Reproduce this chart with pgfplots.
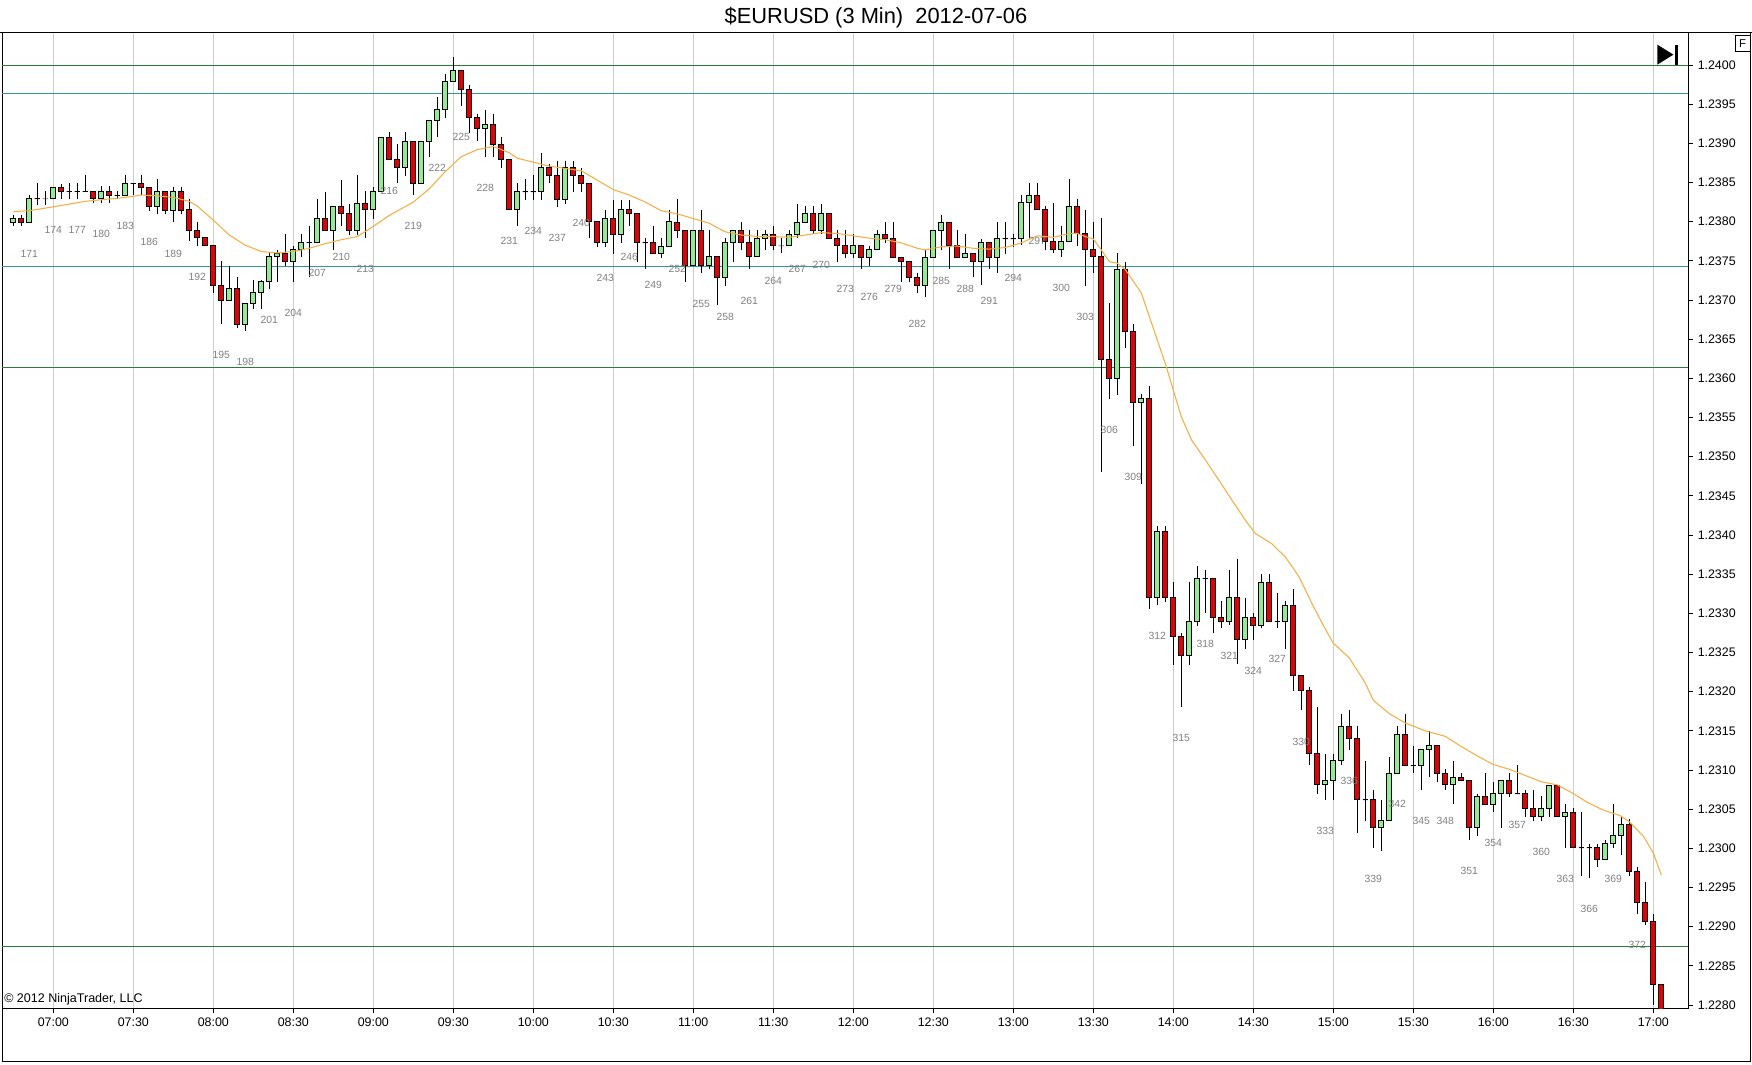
\documentclass[border=0pt]{standalone}
\usepackage{pgfplots}
\pgfplotsset{compat=1.18}
\usepackage{pgfplotstable}
\usepackage{fontspec}
\setmainfont{Liberation Sans}
\definecolor{cgreen}{RGB}{144,238,144}
\definecolor{cred}{RGB}{232,0,0}
\definecolor{lvlgreen}{RGB}{40,125,55}
\definecolor{lvlteal}{RGB}{50,150,160}
\definecolor{maorange}{RGB}{245,175,70}
\definecolor{gridgray}{RGB}{206,206,206}
\definecolor{labelgray}{RGB}{128,128,128}
\pgfdeclareplotmark{blank}{}

\pgfplotstableread{
x o h l c
169 1.23799 1.23809 1.23794 1.23804
170 1.23804 1.23809 1.23794 1.23799
171 1.23799 1.23834 1.23799 1.23829
172 1.23829 1.23849 1.23821 1.23829
173 1.23829 1.23839 1.23821 1.23829
174 1.23829 1.23844 1.23829 1.23844
175 1.23844 1.23848 1.23829 1.23839
176 1.23839 1.23849 1.23829 1.23839
177 1.23839 1.23849 1.23829 1.23839
178 1.23839 1.23860 1.23839 1.23839
179 1.23839 1.23839 1.23824 1.23829
180 1.23829 1.23845 1.23824 1.23839
181 1.23839 1.23845 1.23824 1.23834
182 1.23834 1.23839 1.23829 1.23834
183 1.23834 1.23860 1.23834 1.23849
184 1.23849 1.23849 1.23834 1.23849
185 1.23849 1.23860 1.23834 1.23844
186 1.23844 1.23844 1.23814 1.23819
187 1.23819 1.23854 1.23810 1.23839
188 1.23839 1.23839 1.23810 1.23814
189 1.23814 1.23844 1.23799 1.23839
190 1.23839 1.23844 1.23810 1.23814
191 1.23815 1.23829 1.23775 1.23789
192 1.23789 1.23799 1.23769 1.23780
193 1.23780 1.23780 1.23769 1.23769
194 1.23769 1.23769 1.23709 1.23719
195 1.23719 1.23750 1.23669 1.23700
196 1.23700 1.23744 1.23700 1.23715
197 1.23715 1.23729 1.23664 1.23669
198 1.23669 1.23695 1.23660 1.23695
199 1.23695 1.23725 1.23689 1.23709
200 1.23709 1.23725 1.23689 1.23724
201 1.23724 1.23760 1.23714 1.23755
202 1.23755 1.23764 1.23723 1.23760
203 1.23760 1.23784 1.23743 1.23749
204 1.23749 1.23769 1.23723 1.23765
205 1.23765 1.23784 1.23755 1.23774
206 1.23774 1.23795 1.23730 1.23774
207 1.23774 1.23829 1.23774 1.23804
208 1.23804 1.23838 1.23789 1.23789
209 1.23789 1.23820 1.23764 1.23820
210 1.23820 1.23853 1.23794 1.23810
211 1.23810 1.23823 1.23783 1.23789
212 1.23789 1.23859 1.23783 1.23823
213 1.23823 1.23839 1.23779 1.23815
214 1.23815 1.23844 1.23804 1.23838
215 1.23838 1.23908 1.23838 1.23908
216 1.23908 1.23915 1.23879 1.23879
217 1.23879 1.23899 1.23849 1.23869
218 1.23869 1.23915 1.23858 1.23903
219 1.23903 1.23903 1.23834 1.23849
220 1.23849 1.23903 1.23849 1.23903
221 1.23903 1.23929 1.23883 1.23929
222 1.23929 1.23959 1.23908 1.23943
223 1.23943 1.23988 1.23932 1.23979
224 1.23979 1.24010 1.23979 1.23993
225 1.23993 1.23993 1.23948 1.23969
226 1.23969 1.23974 1.23913 1.23933
227 1.23933 1.23938 1.23903 1.23919
228 1.23919 1.23943 1.23883 1.23924
229 1.23924 1.23938 1.23883 1.23899
230 1.23899 1.23908 1.23869 1.23879
231 1.23879 1.23879 1.23815 1.23815
232 1.23815 1.23849 1.23794 1.23838
233 1.23838 1.23854 1.23828 1.23838
234 1.23838 1.23859 1.23828 1.23838
235 1.23838 1.23888 1.23828 1.23869
236 1.23869 1.23874 1.23849 1.23859
237 1.23859 1.23878 1.23819 1.23828
238 1.23828 1.23878 1.23823 1.23869
239 1.23869 1.23878 1.23838 1.23859
240 1.23859 1.23869 1.23838 1.23849
241 1.23849 1.23849 1.23779 1.23800
242 1.23800 1.23800 1.23768 1.23773
243 1.23773 1.23815 1.23768 1.23804
244 1.23804 1.23828 1.23759 1.23784
245 1.23784 1.23828 1.23773 1.23815
246 1.23815 1.23828 1.23794 1.23810
247 1.23810 1.23810 1.23749 1.23773
248 1.23773 1.23779 1.23739 1.23773
249 1.23773 1.23794 1.23759 1.23759
250 1.23759 1.23779 1.23754 1.23768
251 1.23768 1.23815 1.23768 1.23800
252 1.23799 1.23829 1.23779 1.23789
253 1.23789 1.23789 1.23723 1.23744
254 1.23744 1.23789 1.23744 1.23789
255 1.23789 1.23815 1.23734 1.23744
256 1.23744 1.23789 1.23739 1.23755
257 1.23755 1.23755 1.23694 1.23729
258 1.23729 1.23779 1.23718 1.23774
259 1.23774 1.23789 1.23749 1.23789
260 1.23789 1.23799 1.23764 1.23774
261 1.23774 1.23789 1.23739 1.23755
262 1.23755 1.23789 1.23755 1.23779
263 1.23779 1.23789 1.23764 1.23784
264 1.23784 1.23795 1.23764 1.23769
265 1.23769 1.23779 1.23760 1.23769
266 1.23769 1.23789 1.23769 1.23784
267 1.23784 1.23823 1.23779 1.23799
268 1.23799 1.23820 1.23799 1.23810
269 1.23810 1.23820 1.23784 1.23789
270 1.23789 1.23823 1.23784 1.23810
271 1.23810 1.23810 1.23779 1.23779
272 1.23779 1.23789 1.23749 1.23769
273 1.23769 1.23789 1.23754 1.23759
274 1.23759 1.23784 1.23754 1.23769
275 1.23769 1.23769 1.23739 1.23754
276 1.23754 1.23769 1.23744 1.23764
277 1.23764 1.23789 1.23764 1.23784
278 1.23784 1.23799 1.23773 1.23778
279 1.23778 1.23799 1.23754 1.23754
280 1.23754 1.23754 1.23723 1.23749
281 1.23749 1.23749 1.23723 1.23729
282 1.23729 1.23734 1.23709 1.23719
283 1.23719 1.23764 1.23704 1.23754
284 1.23754 1.23789 1.23754 1.23789
285 1.23789 1.23809 1.23764 1.23799
286 1.23799 1.23799 1.23739 1.23769
287 1.23769 1.23789 1.23754 1.23754
288 1.23754 1.23784 1.23754 1.23759
289 1.23759 1.23759 1.23729 1.23749
290 1.23749 1.23778 1.23719 1.23773
291 1.23773 1.23773 1.23739 1.23754
292 1.23754 1.23799 1.23734 1.23778
293 1.23778 1.23799 1.23759 1.23778
294 1.23778 1.23784 1.23768 1.23778
295 1.23779 1.23834 1.23770 1.23824
296 1.23824 1.23849 1.23779 1.23834
297 1.23834 1.23849 1.23815 1.23815
298 1.23815 1.23820 1.23764 1.23775
299 1.23775 1.23824 1.23760 1.23765
300 1.23765 1.23795 1.23755 1.23775
301 1.23775 1.23854 1.23775 1.23820
302 1.23820 1.23829 1.23769 1.23785
303 1.23785 1.23815 1.23718 1.23765
304 1.23765 1.23800 1.23734 1.23755
305 1.23755 1.23805 1.23480 1.23624
306 1.23624 1.23696 1.23574 1.23600
307 1.23600 1.23760 1.23579 1.23739
308 1.23739 1.23749 1.23639 1.23660
309 1.23660 1.23669 1.23514 1.23569
310 1.23569 1.23580 1.23465 1.23574
311 1.23574 1.23590 1.23305 1.23320
312 1.23320 1.23411 1.23311 1.23405
313 1.23405 1.23411 1.23315 1.23320
314 1.23320 1.23340 1.23234 1.23271
315 1.23271 1.23275 1.23180 1.23246
316 1.23246 1.23340 1.23234 1.23289
317 1.23289 1.23360 1.23284 1.23345
318 1.23345 1.23355 1.23300 1.23345
319 1.23345 1.23345 1.23275 1.23295
320 1.23295 1.23316 1.23281 1.23290
321 1.23290 1.23355 1.23285 1.23320
322 1.23320 1.23370 1.23235 1.23266
323 1.23266 1.23320 1.23255 1.23295
324 1.23295 1.23300 1.23266 1.23285
325 1.23285 1.23350 1.23281 1.23339
326 1.23339 1.23350 1.23290 1.23290
327 1.23290 1.23326 1.23281 1.23290
328 1.23290 1.23316 1.23255 1.23310
329 1.23310 1.23331 1.23201 1.23221
330 1.23221 1.23221 1.23176 1.23201
331 1.23201 1.23206 1.23106 1.23121
332 1.23121 1.23181 1.23070 1.23081
333 1.23081 1.23121 1.23062 1.23086
334 1.23086 1.23121 1.23062 1.23112
335 1.23112 1.23172 1.23106 1.23156
336 1.23156 1.23177 1.23126 1.23140
337 1.23140 1.23156 1.23020 1.23062
338 1.23062 1.23111 1.23035 1.23062
339 1.23062 1.23075 1.23001 1.23026
340 1.23026 1.23062 1.22996 1.23035
341 1.23035 1.23116 1.23035 1.23096
342 1.23096 1.23156 1.23096 1.23146
343 1.23146 1.23171 1.23106 1.23106
344 1.23106 1.23131 1.23096 1.23106
345 1.23106 1.23126 1.23075 1.23126
346 1.23126 1.23150 1.23091 1.23131
347 1.23131 1.23131 1.23085 1.23096
348 1.23096 1.23101 1.23075 1.23081
349 1.23081 1.23111 1.23056 1.23091
350 1.23091 1.23096 1.23086 1.23086
351 1.23086 1.23086 1.23011 1.23026
352 1.23026 1.23070 1.23016 1.23066
353 1.23066 1.23096 1.23056 1.23056
354 1.23056 1.23085 1.23046 1.23070
355 1.23070 1.23086 1.23026 1.23086
356 1.23086 1.23096 1.23066 1.23070
357 1.23070 1.23106 1.23070 1.23070
358 1.23070 1.23075 1.23040 1.23051
359 1.23051 1.23075 1.23035 1.23041
360 1.23041 1.23067 1.23035 1.23051
361 1.23051 1.23080 1.23040 1.23080
362 1.23080 1.23080 1.23041 1.23041
363 1.23041 1.23057 1.23001 1.23046
364 1.23046 1.23051 1.23001 1.23001
365 1.23001 1.23046 1.22965 1.23001
366 1.23001 1.23006 1.22962 1.23001
367 1.23001 1.23006 1.22976 1.22986
368 1.22986 1.23011 1.22986 1.23006
369 1.23006 1.23057 1.23001 1.23016
370 1.23016 1.23041 1.22991 1.23031
371 1.23031 1.23037 1.22965 1.22970
372 1.22970 1.22976 1.22916 1.22931
373 1.22931 1.22957 1.22902 1.22906
374 1.22906 1.22916 1.22800 1.22826
375 1.22826 1.22826 1.22785 1.22790
}\candles

\begin{document}
\begin{tikzpicture}
\useasboundingbox (0,0) rectangle (1314pt,798pt);
\begin{axis}[
  at={(1.5pt,42pt)}, anchor=south west,
  width=1264.5pt, height=731.25pt, scale only axis,
  xmin=167.59, xmax=378.34, ymin=1.227962, ymax=1.240409,
  axis line style={black, line width=0.75pt},
  xtick={174,184,...,374},
  xticklabels={07:00,07:30,08:00,08:30,09:00,09:30,10:00,10:30,11:00,11:30,12:00,12:30,13:00,13:30,14:00,14:30,15:00,15:30,16:00,16:30,17:00},
  ytick={1.2280,1.2285,1.2290,1.2295,1.2300,1.2305,1.2310,1.2315,1.2320,1.2325,1.2330,1.2335,1.2340,1.2345,1.2350,1.2355,1.2360,1.2365,1.2370,1.2375,1.2380,1.2385,1.2390,1.2395,1.2400},
  scaled y ticks=false,
  xtick pos=bottom, ytick pos=right, yticklabel pos=right,
  tick align=outside, major tick length=3.75pt,
  xmajorgrids, grid style={gridgray, line width=0.75pt},
  tick style={black, line width=0.75pt},
  ticklabel style={font=\fontsize{9.3pt}{10pt}\selectfont},
  yticklabel style={/pgf/number format/.cd, fixed, fixed zerofill, precision=4},
  /pgf/number format/assume math mode=true,
  clip marker paths=true,
]
% support / resistance lines
\addplot[lvlgreen, line width=0.75pt] coordinates {(167,1.2400) (379,1.2400)};
\addplot[lvlteal, line width=0.75pt] coordinates {(167,1.23964) (379,1.23964)};
\addplot[lvlteal, line width=0.75pt] coordinates {(167,1.23743) (379,1.23743)};
\addplot[lvlgreen, line width=0.75pt] coordinates {(167,1.23614) (379,1.23614)};
\addplot[lvlgreen, line width=0.75pt] coordinates {(167,1.22875) (379,1.22875)};
% candles (anchored at the high)
\addplot[only marks, mark=blank, scatter,
  visualization depends on={1000*(\thisrow{o}-\thisrow{h}) \as \dO},
  visualization depends on={1000*(\thisrow{l}-\thisrow{h}) \as \dL},
  visualization depends on={1000*(\thisrow{c}-\thisrow{h}) \as \dC},
  scatter/@pre marker code/.code={%
    \scope
    \draw[black, line width=0.75pt] (axis direction cs:0,0) -- (axis direction cs:0,\dL/1000);
    \ifdim\dC pt>\dO pt \def\bcol{cgreen}\else\def\bcol{cred}\fi
    \filldraw[fill=\bcol, draw=black, line width=0.75pt] (axis direction cs:-0.32,\dO/1000) rectangle (axis direction cs:0.32,\dC/1000);
  },
  scatter/@post marker code/.code={\endscope},
] table[x=x, y=h] {\candles};
% moving average
\addplot[maorange, line width=0.8pt] coordinates {
(169,1.23813) (171,1.23814) (174,1.23819) (178,1.23826) (180,1.23828) (183,1.23831) (185,1.23834) (187,1.23833) (189,1.23831) (191,1.23826) (192,1.23820) (194,1.23802) (196,1.23783) (198,1.23770) (200,1.23762) (202,1.23760) (204,1.23762) (206,1.23766) (208,1.23772) (210,1.23777) (212,1.23781) (214,1.23794) (216,1.23808) (219,1.23825) (221,1.23842) (223,1.23864) (225,1.23883) (227,1.23892) (229,1.23896) (231,1.23888) (232,1.23881) (234,1.23876) (236,1.23871) (238,1.23868) (240,1.23865) (241,1.23859) (244,1.23841) (246,1.23834) (248,1.23825) (250,1.23814) (252,1.23810) (254,1.23804) (256,1.23798) (258,1.23787) (260,1.23783) (262,1.23781) (264,1.23781) (266,1.23780) (268,1.23783) (270,1.23786) (272,1.23785) (274,1.23782) (276,1.23779) (278,1.23777) (280,1.23773) (282,1.23766) (283,1.23764) (285,1.23768) (287,1.23769) (289,1.23766) (291,1.23765) (293,1.23767) (295,1.23773) (297,1.23782) (299,1.23780) (301,1.23785) (302,1.23785) (303,1.23781) (304,1.23778) (305,1.23764) (306,1.23749) (307,1.23747) (308,1.23739) (310,1.23709) (311.3,1.23670) (313,1.23619) (314,1.23585) (315,1.23551) (316.3,1.23521) (318,1.23496) (319.7,1.23470) (321.3,1.23445) (323,1.23419) (324.25,1.23402) (326.3,1.23389) (328,1.23372) (329.7,1.23347) (331.5,1.23309) (333,1.23280) (334,1.23262) (336,1.23243) (338,1.23211) (339,1.23189) (341,1.23172) (343,1.23160) (345.5,1.23150) (348,1.23143) (350,1.23130) (352,1.23118) (354,1.23107) (356,1.23101) (358,1.23093) (360,1.23085) (362,1.23081) (364,1.23070) (365.7,1.23059) (367.7,1.23049) (369.8,1.23042) (371,1.23034) (372.8,1.23015) (374,1.22994) (375,1.22966)
};
% bar numbers
\addplot[only marks, mark=blank, point meta=x,
  x filter/.expression={(mod(x-171,3)==0 && x<373) ? x : nan},
  nodes near coords, nodes near coords align={anchor=center},
  every node near coord/.append style={anchor=center, yshift=-23.25pt, inner sep=0pt,
    font=\fontsize{7.8pt}{8pt}\selectfont, text=labelgray},
] table[x=x, y=l] {\candles};
\end{axis}
% outer frame
\draw[black, line width=0.75pt] (0pt,773.25pt) -- (1314pt,773.25pt);
\draw[black, line width=0.75pt] (1.5pt,42pt) -- (1.5pt,2.25pt) -- (1312.9pt,2.25pt) -- (1312.9pt,773.25pt);
% title
\node[font=\fontsize{16.4pt}{19pt}\selectfont] at (657pt,784.8pt) {\$EURUSD (3 Min)\ \ 2012-07-06};
% copyright
\node[anchor=west, inner sep=0pt, font=\fontsize{9.4pt}{10pt}\selectfont] at (3pt,48.75pt) {© 2012 NinjaTrader, LLC};
% play-to-end icon
\fill[black] (1243pt,764.5pt) -- (1255pt,757pt) -- (1243pt,749.5pt) -- cycle;
\fill[black] (1256pt,764.5pt) rectangle (1258.8pt,749.5pt);
% F box
\draw[black, line width=0.75pt] (1301.5pt,771pt) rectangle (1312.5pt,759pt);
\node[font=\fontsize{8.5pt}{9pt}\selectfont, inner sep=0pt] at (1307pt,765pt) {F};
\end{tikzpicture}
\end{document}
